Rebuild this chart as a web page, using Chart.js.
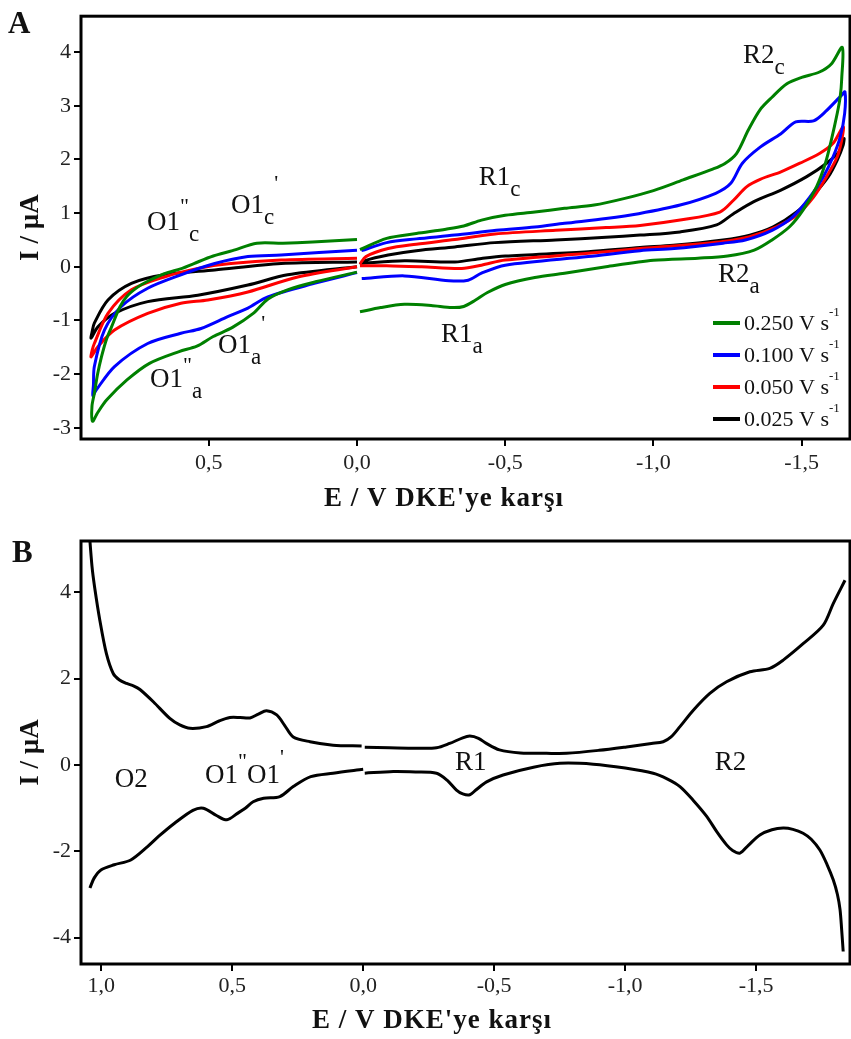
<!DOCTYPE html>
<html>
<head>
<meta charset="utf-8">
<script src="https://cdn.jsdelivr.net/npm/chart.js@4.4.0/dist/chart.umd.min.js"></script>
<style>
  body { margin: 0; background: #fff; }
  #wrapA { position: absolute; left: 0; top: 0; width: 851px; height: 520px; }
  #wrapB { position: absolute; left: 0; top: 520px; width: 851px; height: 519px; }
</style>
</head>
<body>
<div id="wrapA"><canvas id="chartA"></canvas></div>
<div id="wrapB"><canvas id="chartB"></canvas></div>
<script>
// scan rates (V s-1) for panel A
const scanRates = ['0.250', '0.100', '0.050', '0.025'];

// panel A: potential (V) and current (uA), null = break between the two scan windows
const E_250 = [-0.01,-0.1,-0.2,-0.3,-0.36,-0.42,-0.5,-0.6,-0.7,-0.8,-0.9,-1.0,-1.1,-1.2,-1.24,-1.28,-1.32,-1.36,-1.4,-1.45,-1.5,-1.56,-1.6,-1.637,
  -1.635,-1.63,-1.62,-1.60,-1.58,-1.55,-1.505,-1.46,-1.40,-1.34,-1.25,-1.15,-1.0,-0.84,-0.7,-0.6,-0.5,-0.44,-0.40,-0.36,-0.32,-0.25,-0.16,-0.08,-0.01,
  null,
  0.0,0.14,0.23,0.3,0.35,0.42,0.485,0.54,0.6,0.7,0.776,0.844,0.875,0.892,
  0.894,0.886,0.875,0.862,0.845,0.828,0.80,0.776,0.74,0.706,0.65,0.59,0.55,0.485,0.42,0.338,0.25,0.15,0.0];
const I_250 = [0.32,0.53,0.62,0.70,0.76,0.87,0.96,1.02,1.09,1.15,1.27,1.42,1.62,1.82,1.92,2.11,2.55,2.93,3.16,3.41,3.53,3.63,3.78,4.09,
  3.5,3.17,2.86,2.36,1.93,1.49,1.06,0.75,0.50,0.31,0.2,0.16,0.12,0.0,-0.12,-0.2,-0.33,-0.48,-0.62,-0.74,-0.76,-0.72,-0.70,-0.76,-0.84,
  null,
  -0.10,-0.28,-0.42,-0.6,-0.87,-1.13,-1.30,-1.48,-1.58,-1.8,-2.11,-2.48,-2.72,-2.88,
  -2.6,-2.36,-2.0,-1.68,-1.35,-1.12,-0.75,-0.55,-0.38,-0.27,-0.13,-0.03,0.06,0.2,0.3,0.44,0.44,0.46,0.51];

const E_100 = [-0.015,-0.1,-0.2,-0.33,-0.47,-0.6,-0.7,-0.84,-0.95,-1.09,-1.21,-1.26,-1.30,-1.36,-1.43,-1.48,-1.54,-1.58,-1.635,-1.646,
  -1.645,-1.63,-1.606,-1.573,-1.528,-1.47,-1.40,-1.31,-1.235,-1.07,-0.955,-0.78,-0.5,-0.42,-0.375,-0.31,-0.16,-0.016,
  null,
  0.0,0.144,0.301,0.368,0.436,0.526,0.594,0.706,0.818,0.88,0.891,
  0.889,0.886,0.852,0.796,0.706,0.594,0.48,0.368,0.256,0.0];
const I_100 = [0.30,0.45,0.52,0.59,0.68,0.74,0.81,0.90,0.99,1.15,1.37,1.55,1.93,2.23,2.48,2.70,2.72,2.89,3.20,3.26,
  2.86,2.42,2.05,1.68,1.30,0.93,0.68,0.50,0.44,0.34,0.30,0.19,0.03,-0.12,-0.25,-0.26,-0.17,-0.22,
  null,
  -0.11,-0.31,-0.56,-0.77,-0.93,-1.15,-1.24,-1.43,-1.86,-2.30,-2.40,
  -2.2,-1.86,-1.18,-0.745,-0.40,-0.15,0.06,0.19,0.22,0.31];

const E_050 = [-0.01,-0.03,-0.105,-0.2,-0.33,-0.465,-0.67,-0.84,-0.955,-1.09,-1.224,-1.27,-1.314,-1.36,-1.43,-1.494,-1.56,-1.606,-1.64,
  -1.635,-1.62,-1.584,-1.54,-1.483,-1.415,-1.325,-1.235,-1.067,-0.955,-0.78,-0.5,-0.42,-0.353,-0.218,-0.1,-0.01,
  null,
  0.0,0.2,0.368,0.503,0.594,0.706,0.818,0.874,0.897,
  0.893,0.886,0.84,0.761,0.65,0.537,0.425,0.256,0.0];
const I_050 = [0.05,0.19,0.34,0.42,0.51,0.61,0.68,0.73,0.77,0.87,1.02,1.24,1.49,1.63,1.77,1.93,2.11,2.30,2.61,
  2.36,2.05,1.68,1.30,0.96,0.745,0.56,0.47,0.385,0.34,0.25,0.125,0.03,-0.03,0.0,0.02,0.02,
  null,
  0.0,-0.19,-0.47,-0.62,-0.68,-0.87,-1.18,-1.49,-1.68,
  -1.55,-1.43,-0.87,-0.43,-0.19,-0.03,0.06,0.125,0.16];

const E_025 = [-0.01,-0.03,-0.105,-0.2,-0.33,-0.465,-0.67,-0.84,-0.955,-1.09,-1.213,-1.27,-1.337,-1.43,-1.517,-1.584,-1.63,-1.643,
  -1.64,-1.62,-1.59,-1.54,-1.483,-1.404,-1.325,-1.235,-1.067,-0.955,-0.78,-0.5,-0.42,-0.33,-0.16,-0.01,
  null,
  0.0,0.234,0.368,0.537,0.706,0.818,0.874,0.897,
  0.893,0.886,0.84,0.761,0.65,0.48,0.256,0.0];
const I_025 = [0.04,0.12,0.22,0.30,0.37,0.45,0.50,0.55,0.59,0.65,0.78,0.99,1.21,1.43,1.68,1.93,2.17,2.39,
  2.27,1.99,1.68,1.34,1.02,0.745,0.59,0.50,0.40,0.36,0.28,0.20,0.155,0.09,0.11,0.06,
  null,
  0.0,-0.15,-0.34,-0.53,-0.65,-0.87,-1.12,-1.33,
  -1.2,-1.05,-0.62,-0.31,-0.15,-0.06,0.06,0.09];

// panel B: single curve, upper and lower branches
const E_B = [1.048,1.035,1.025,1.005,0.98,0.954,0.93,0.903,0.875,0.852,0.80,0.738,0.70,0.661,0.598,0.55,0.509,0.47,0.432,0.40,0.369,0.33,0.30,0.267,0.203,0.115,0.006,
  null,
  -0.006,-0.1,-0.2,-0.28,-0.33,-0.38,-0.407,-0.44,-0.47,-0.52,-0.6,-0.7,-0.776,-0.9,-1.005,-1.1,-1.145,-1.175,-1.209,-1.26,-1.323,-1.387,-1.476,-1.552,-1.603,-1.679,-1.756,-1.794,-1.839,
  null,
  -1.832,-1.826,-1.82,-1.81,-1.794,-1.77,-1.743,-1.71,-1.679,-1.64,-1.603,-1.56,-1.514,-1.47,-1.438,-1.41,-1.387,-1.35,-1.311,-1.26,-1.209,-1.16,-1.107,-1.0,-0.878,-0.751,-0.65,-0.534,-0.471,-0.43,-0.407,-0.38,-0.356,-0.32,-0.28,-0.2,-0.115,-0.006,
  null,
  0.0,0.115,0.2,0.267,0.318,0.38,0.42,0.45,0.48,0.52,0.56,0.61,0.65,0.72,0.78,0.823,0.887,0.95,1.001,1.027,1.043];
const I_B = [5.6,4.6,4.12,3.35,2.58,2.12,1.97,1.89,1.83,1.75,1.46,1.08,0.93,0.85,0.89,1.02,1.10,1.10,1.09,1.18,1.26,1.16,0.92,0.65,0.54,0.46,0.44,
  null,
  0.41,0.40,0.39,0.40,0.5,0.63,0.67,0.62,0.5,0.35,0.28,0.27,0.27,0.34,0.42,0.5,0.54,0.65,0.89,1.27,1.66,1.93,2.16,2.24,2.43,2.81,3.24,3.74,4.28,
  null,
  -4.32,-3.8,-3.35,-3.0,-2.66,-2.3,-1.97,-1.72,-1.58,-1.49,-1.46,-1.5,-1.62,-1.86,-2.04,-1.98,-1.85,-1.55,-1.19,-0.82,-0.50,-0.32,-0.19,-0.07,0.02,0.04,-0.05,-0.23,-0.39,-0.58,-0.69,-0.67,-0.58,-0.35,-0.19,-0.16,-0.15,-0.19,
  null,
  -0.10,-0.19,-0.27,-0.5,-0.73,-0.77,-0.85,-1.0,-1.12,-1.27,-1.17,-1.0,-1.05,-1.35,-1.65,-1.89,-2.20,-2.31,-2.43,-2.62,-2.85];

// tick values
const xTicksA = [0.5, 0, -0.5, -1.0, -1.5];
const yTicksA = [-3, -2, -1, 0, 1, 2, 3, 4];
const xTicksB = [1.0, 0.5, 0, -0.5, -1.0, -1.5];
const yTicksB = [-4, -2, 0, 2, 4];

// peak labels: [text, kind (m main, b subscript, p superscript), sup offset]
const notesA = [
  { e: 0.708, i: 0.68, parts: [['O1', 'm'], ['"', 'p', -17], ['c', 'b']] },
  { e: 0.425, i: 1.0, parts: [['O1', 'm'], ['c', 'b'], ["'", 'p', -23]] },
  { e: 0.469, i: -1.60, parts: [['O1', 'm'], ['a', 'b'], ["'", 'p', -23]] },
  { e: 0.698, i: -2.24, parts: [['O1', 'm'], ['"', 'p', -15], ['a', 'b']] },
  { e: -0.411, i: 1.52, parts: [['R1', 'm'], ['c', 'b']] },
  { e: -0.283, i: -1.40, parts: [['R1', 'm'], ['a', 'b']] },
  { e: -1.302, i: 3.80, parts: [['R2', 'm'], ['c', 'b']] },
  { e: -1.218, i: -0.28, parts: [['R2', 'm'], ['a', 'b']] }
];
const notesB = [
  { e: 0.948, i: -0.51, parts: [['O2', 'm']] },
  { e: 0.604, i: -0.42, parts: [['O1', 'm'], ['"', 'p', -15], ['O1', 'm'], ["'", 'p', -19]] },
  { e: -0.35, i: -0.116, parts: [['R1', 'm']] },
  { e: -1.342, i: -0.116, parts: [['R2', 'm']] }
];

const SERIF = '"Liberation Serif", "Times New Roman", serif';
Chart.defaults.font.family = SERIF;

function toPoints(E, I) {
  return E.map((e, k) => ({ x: e, y: I[k] }));
}

function comma(v) {
  return Number(v).toFixed(1).replace('.', ',');
}

function drawParts(ctx, x, y, parts) {
  parts.forEach(p => {
    let size = 27, dy = 0;
    if (p[1] === 'b') { size = 23; dy = 11; }
    if (p[1] === 'p') { size = 22; dy = p[2]; }
    ctx.font = size + 'px ' + SERIF;
    ctx.fillText(p[0], x, y + dy);
    x += ctx.measureText(p[0]).width;
  });
}

// frame, panel letter, x title, peak labels and legend
const decor = {
  id: 'decor',
  afterDraw(chart, args, opts) {
    const ctx = chart.ctx;
    const a = chart.chartArea;
    const xs = chart.scales.x, ys = chart.scales.y;
    ctx.save();
    ctx.strokeStyle = '#000';
    ctx.lineWidth = 3;
    ctx.strokeRect(a.left, a.top, a.right - a.left, a.bottom - a.top);

    ctx.fillStyle = '#111';
    ctx.textBaseline = 'alphabetic';
    ctx.textAlign = 'left';
    ctx.font = 'bold 31px ' + SERIF;
    ctx.fillText(opts.letter, opts.letterAt[0], opts.letterAt[1]);

    ctx.textAlign = 'center';
    ctx.textBaseline = 'middle';
    ctx.font = 'bold 27px ' + SERIF;
    ctx.letterSpacing = '1px';
    ctx.fillText("E / V DKE'ye karşı", opts.titleAt[0], opts.titleAt[1]);
    ctx.letterSpacing = '0px';

    ctx.textAlign = 'left';
    ctx.textBaseline = 'alphabetic';
    opts.notes.forEach(n => {
      drawParts(ctx, xs.getPixelForValue(n.e), ys.getPixelForValue(n.i), n.parts);
    });

    if (opts.legend) {
      chart.data.datasets.forEach((ds, k) => {
        const y = a.bottom - 116 + k * 32;
        ctx.strokeStyle = ds.borderColor;
        ctx.lineWidth = 4;
        ctx.beginPath();
        ctx.moveTo(a.right - 137, y);
        ctx.lineTo(a.right - 110, y);
        ctx.stroke();
        ctx.font = '22px ' + SERIF;
        const txt = scanRates[k] + ' V s';
        ctx.fillText(txt, a.right - 106, y + 7);
        const w = ctx.measureText(txt).width;
        ctx.font = '13px ' + SERIF;
        ctx.fillText('-1', a.right - 106 + w, y - 7);
      });
    }
    ctx.restore();
  }
};

function scaleOpts(min, max, ticks, fmt, fit, pad, horizontal) {
  const o = {
    type: 'linear',
    min: min,
    max: max,
    afterBuildTicks: s => { s.ticks = ticks.map(v => ({ value: v })); },
    ticks: {
      font: { family: SERIF, size: 22 },
      color: '#222',
      padding: pad,
      maxRotation: 0,
      autoSkip: false,
      callback: fmt
    },
    grid: { drawOnChartArea: false, drawTicks: true, tickLength: 7, lineWidth: 2, color: '#000' },
    border: { display: false }
  };
  if (horizontal) {
    o.reverse = true;
    o.afterFit = s => { s.height = fit; };
  } else {
    o.afterFit = s => { s.width = fit; };
    o.title = {
      display: true,
      text: 'I / µA',
      color: '#111',
      font: { family: SERIF, size: 27, weight: 'bold' },
      padding: { top: 15, bottom: 0 }
    };
  }
  return o;
}

function lineSet(label, E, I, color) {
  return {
    label: label,
    data: toPoints(E, I),
    borderColor: color,
    borderWidth: 3,
    pointRadius: 0,
    tension: 0.3,
    fill: false,
    spanGaps: false
  };
}

new Chart(document.getElementById('chartA'), {
  type: 'line',
  data: {
    datasets: [
      lineSet(scanRates[0] + ' V s-1', E_250, I_250, '#008000'),
      lineSet(scanRates[1] + ' V s-1', E_100, I_100, '#0000ff'),
      lineSet(scanRates[2] + ' V s-1', E_050, I_050, '#ff0000'),
      lineSet(scanRates[3] + ' V s-1', E_025, I_025, '#000000')
    ]
  },
  options: {
    responsive: true,
    maintainAspectRatio: false,
    devicePixelRatio: 1,
    animation: false,
    layout: { padding: { top: 16, right: 1, left: 0, bottom: 0 } },
    plugins: {
      legend: { display: false },
      tooltip: { enabled: false },
      decor: { letter: 'A', letterAt: [8, 33], titleAt: [444, 499], notes: notesA, legend: true }
    },
    scales: {
      x: scaleOpts(-1.663, 0.931, xTicksA, v => comma(v), 81, 4, true),
      y: scaleOpts(-3.21, 4.67, yTicksA, v => String(v), 81, 3, false)
    }
  },
  plugins: [decor]
});

new Chart(document.getElementById('chartB'), {
  type: 'line',
  data: {
    datasets: [lineSet('B', E_B, I_B, '#000000')]
  },
  options: {
    responsive: true,
    maintainAspectRatio: false,
    devicePixelRatio: 1,
    animation: false,
    layout: { padding: { top: 21, right: 1, left: 0, bottom: 0 } },
    plugins: {
      legend: { display: false },
      tooltip: { enabled: false },
      decor: { letter: 'B', letterAt: [12, 42], titleAt: [432, 501], notes: notesB, legend: false }
    },
    scales: {
      x: scaleOpts(-1.858, 1.077, xTicksB, v => comma(v), 75, 2, true),
      y: scaleOpts(-4.61, 5.19, yTicksB, v => String(v), 81, 3, false)
    }
  },
  plugins: [decor]
});
</script>
</body>
</html>
